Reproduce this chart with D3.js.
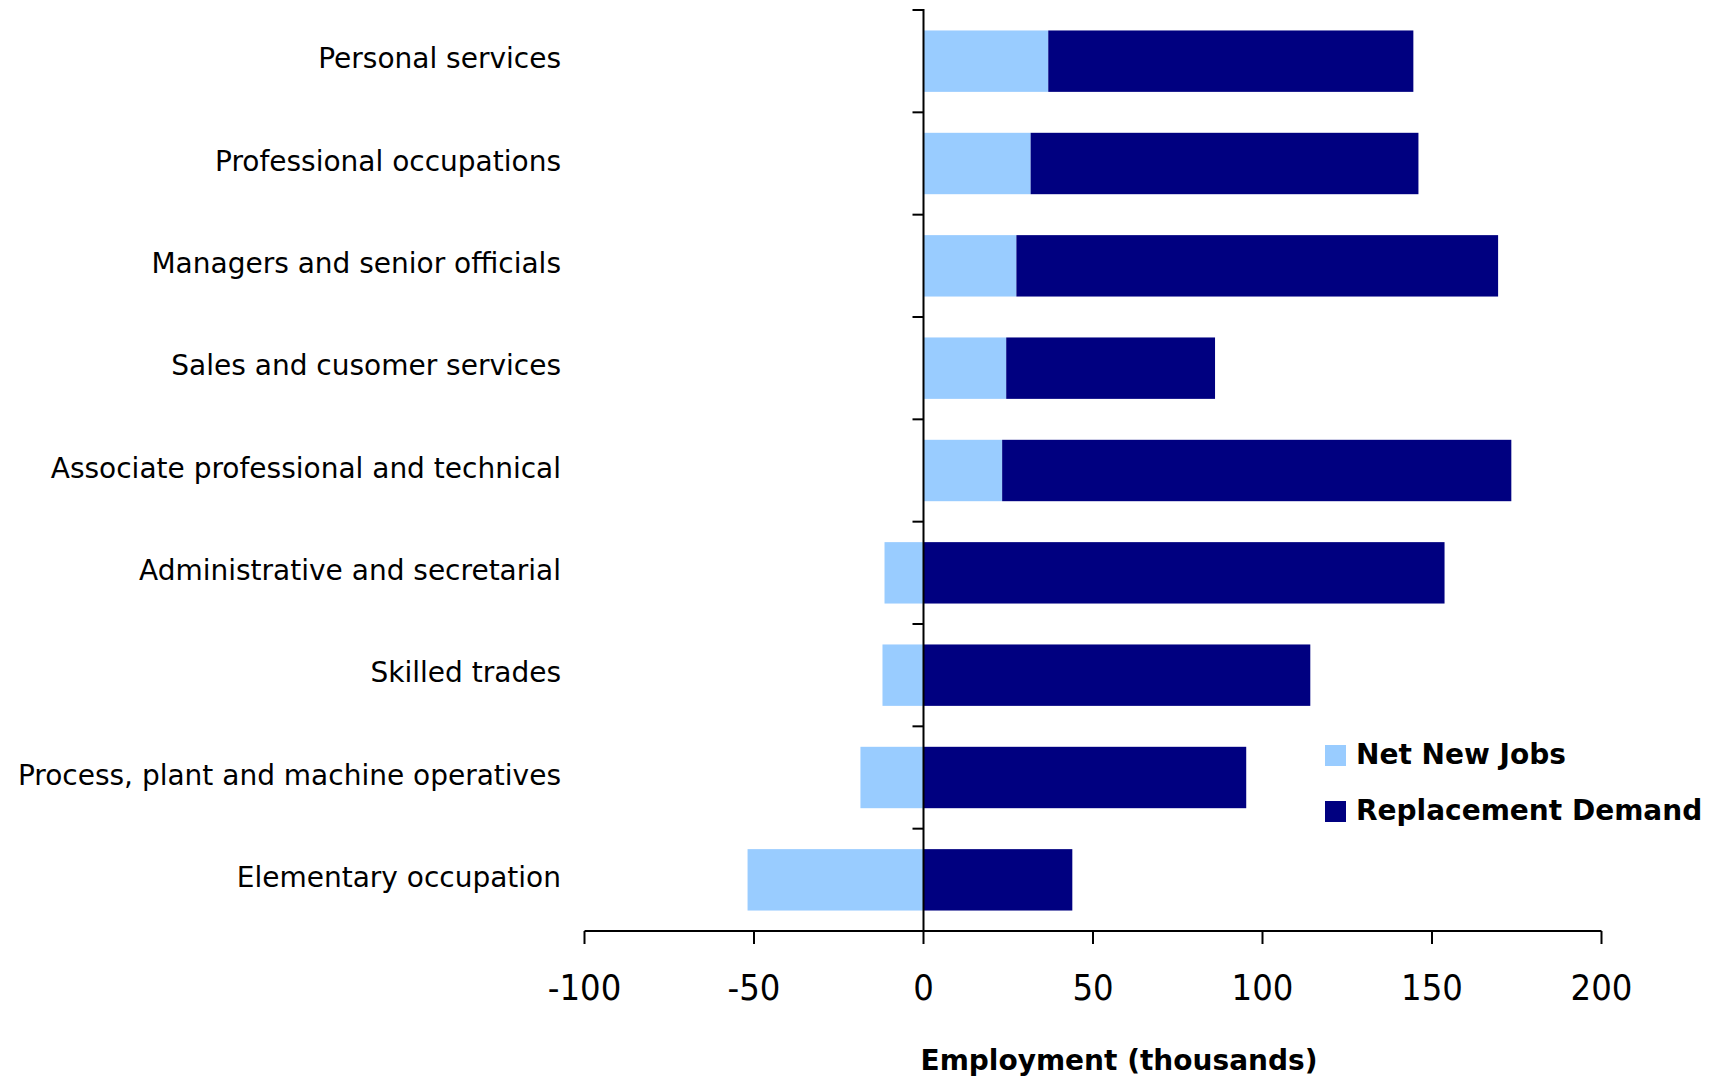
<!DOCTYPE html>
<html>
<head>
<meta charset="utf-8">
<script src="https://cdn.jsdelivr.net/npm/d3@7"></script>
<style>
  html, body { margin: 0; padding: 0; background: #fff; }
  svg { display: block; }
  .cat { font-family: "DejaVu Sans", sans-serif; font-size: 28px; fill: #000; }
  .tick-label { font-family: "DejaVu Sans Condensed", "DejaVu Sans", sans-serif; font-stretch: condensed; font-size: 36px; fill: #000; }
  .bold { font-family: "DejaVu Sans", sans-serif; font-weight: bold; fill: #000; }
</style>
</head>
<body>
<svg id="chart" width="1713" height="1081"></svg>
<script>
const categories = [
  "Personal services",
  "Professional occupations",
  "Managers and senior officials",
  "Sales and cusomer services",
  "Associate professional and technical",
  "Administrative and secretarial",
  "Skilled trades",
  "Process, plant and machine operatives",
  "Elementary occupation"
];
const netNewJobs = [36.8, 31.6, 27.4, 24.4, 23.2, -11.5, -12.1, -18.6, -51.9];
const replacementDemand = [107.7, 114.4, 142.1, 61.6, 150.2, 153.7, 114.1, 95.2, 43.9];
const seriesNames = ["Net New Jobs", "Replacement Demand"];
const seriesColors = ["#99CCFF", "#000080"];
const xTicks = [-100, -50, 0, 50, 100, 150, 200];
const xTitle = "Employment (thousands)";

const svg = d3.select("#chart");

const x = d3.scaleLinear().domain([-100, 200]).range([584.5, 1601.5]);
const y = d3.scaleBand().domain(categories).range([10, 931]).paddingInner(0.4).paddingOuter(0.2);

const rows = categories.map((c, i) => ({ cat: c, net: netNewJobs[i], rep: replacementDemand[i] }));
const stack = d3.stack().keys(["net", "rep"]).offset(d3.stackOffsetDiverging);
const layers = stack(rows);

svg.append("g").selectAll("g")
  .data(layers)
  .join("g")
  .attr("fill", (d, i) => seriesColors[i])
  .selectAll("rect")
  .data(d => d)
  .join("rect")
  .attr("x", d => x(Math.min(d[0], d[1])))
  .attr("width", d => Math.abs(x(d[1]) - x(d[0])))
  .attr("y", d => y(d.data.cat))
  .attr("height", y.bandwidth());

// X axis
const xAxisY = 931;
const gx = svg.append("g").attr("transform", `translate(0,${xAxisY})`);
gx.append("line").attr("x1", x(-100)).attr("x2", x(200)).attr("y1", 0).attr("y2", 0)
  .attr("stroke", "#000").attr("stroke-width", 2);
gx.selectAll("line.t").data(xTicks).join("line").attr("class", "t")
  .attr("x1", d => x(d)).attr("x2", d => x(d)).attr("y1", 0).attr("y2", 13)
  .attr("stroke", "#000").attr("stroke-width", 2);
gx.selectAll("text").data(xTicks).join("text").attr("class", "tick-label")
  .attr("x", d => x(d)).attr("y", 69).attr("text-anchor", "middle")
  .text(d => d);

// Y axis at zero
const step = y.step();
const boundaries = d3.range(categories.length + 1).map(i => 10 + i * step);
const gy = svg.append("g");
gy.append("line").attr("x1", x(0)).attr("x2", x(0)).attr("y1", 9).attr("y2", xAxisY)
  .attr("stroke", "#000").attr("stroke-width", 2);
gy.selectAll("line.t").data(boundaries).join("line").attr("class", "t")
  .attr("x1", x(0) - 11).attr("x2", x(0)).attr("y1", d => d).attr("y2", d => d)
  .attr("stroke", "#000").attr("stroke-width", 2);

// Category labels
svg.append("g").selectAll("text").data(categories).join("text").attr("class", "cat")
  .attr("x", 561).attr("y", d => y(d) + y.bandwidth() / 2 + 7)
  .attr("text-anchor", "end").text(d => d);

// Axis title
svg.append("text").attr("class", "bold").attr("font-size", 28)
  .attr("x", 1119).attr("y", 1070).attr("text-anchor", "middle").text(xTitle);

// Legend
const leg = svg.append("g");
seriesNames.forEach((n, i) => {
  const ly = 745 + i * 56;
  leg.append("rect").attr("x", 1325).attr("y", ly).attr("width", 21).attr("height", 21).attr("fill", seriesColors[i]);
  leg.append("text").attr("class", "bold").attr("font-size", 28)
    .attr("x", 1356).attr("y", ly + 19).text(n);
});
</script>
</body>
</html>
